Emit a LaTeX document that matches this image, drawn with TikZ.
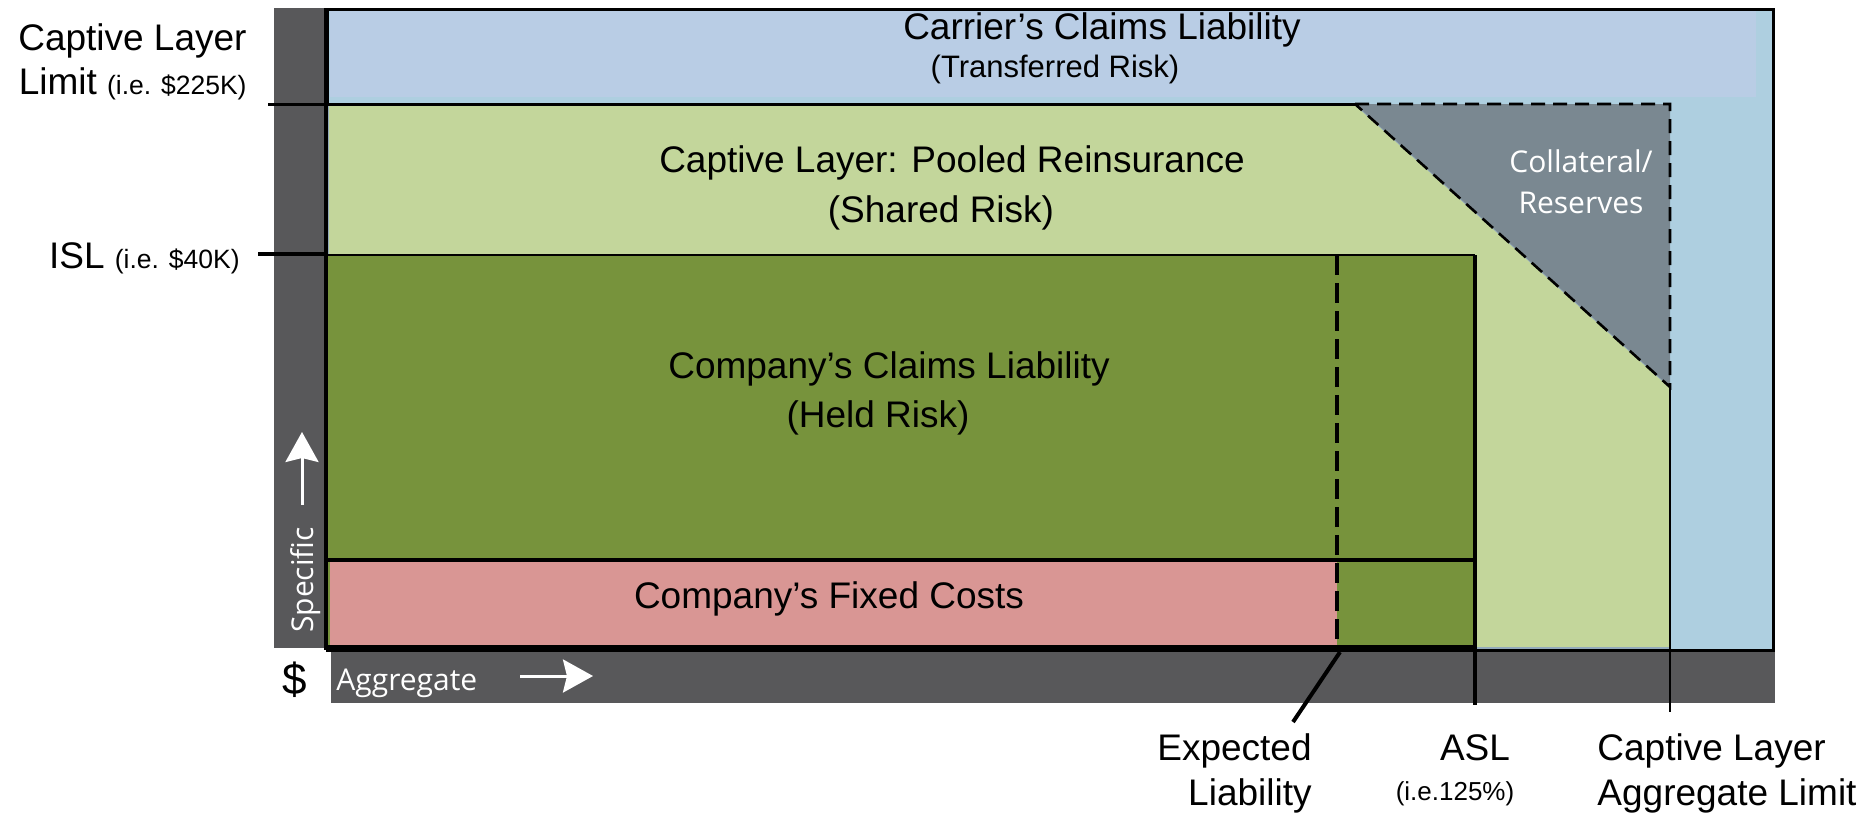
\documentclass[tikz,border=0pt]{standalone}
\usepackage{fontspec}
\setmainfont{Liberation Sans}
\newfontfamily\uifont{Open Sans}
\usetikzlibrary{arrows.meta}

\definecolor{axisgray}{HTML}{58585A}
\definecolor{outerblue}{HTML}{AECFE0}
\definecolor{bandblue}{HTML}{B9CDE5}
\definecolor{lightgreen}{HTML}{C3D69B}
\definecolor{darkgreen}{HTML}{77933C}
\definecolor{fixedpink}{HTML}{D99694}
\definecolor{slate}{HTML}{7A8891}
\definecolor{edgeblue}{HTML}{93AABB}

\begin{document}
\begin{tikzpicture}[x=0.5pt,y=-0.5pt,
  main/.style={inner sep=0pt, anchor=base, font=\fontsize{18.5}{22}\selectfont},
  sub/.style={inner sep=0pt, anchor=base, font=\fontsize{15.5}{18}\selectfont},
  note/.style={inner sep=0pt, anchor=base, font=\fontsize{13}{16}\selectfont},
  axislbl/.style={inner sep=0pt, anchor=base, text=white, font=\uifont\fontsize{15}{18}\selectfont},
  axisarrow/.style={draw=white, line width=1.5pt, -{Stealth[length=15pt, width=16.5pt, inset=2pt]}},
  marker/.style={draw=black, line width=2pt},
]
\useasboundingbox (0,0) rectangle (1866,814);

% axis bars
\fill[axisgray] (274,8) rectangle (325,648);
\fill[axisgray] (331,652) rectangle (1775,703);

% carrier layer (outer box and top band)
\filldraw[fill=outerblue, draw=black, line width=1.5pt] (327,9) rectangle (1773,650);
\fill[bandblue] (330,11) rectangle (1756,97);

% pooled captive layer
\filldraw[fill=lightgreen, draw=edgeblue, line width=0.8pt]
  (328,104) -- (1355,104) -- (1670,387) -- (1670,648) -- (328,648) -- cycle;

% collateral / reserves triangle
\filldraw[fill=slate, draw=black, line width=1.3pt, dash pattern=on 7pt off 4pt]
  (1355,104) -- (1670,104) -- (1670,387) -- cycle;

% held risk and fixed costs
\fill[darkgreen] (327,255) rectangle (1475,648);
\draw[black, line width=0.6pt] (327,255) -- (1475,255);
\fill[fixedpink] (330,562) rectangle (1337,645);

% key points
\coordinate (climTick) at (268,104);
\coordinate (climEnd)  at (1355,104);
\coordinate (islTick)  at (258,254);
\coordinate (islEnd)   at (327,254);
\coordinate (expTop)   at (1337,255);
\coordinate (expBot)   at (1337,648);
\coordinate (expFoot)  at (1340,652);
\coordinate (expLead)  at (1293,722);
\coordinate (aslTop)   at (1475,255);
\coordinate (aslFoot)  at (1475,705);
\coordinate (aggTop)   at (1670,387);
\coordinate (aggFoot)  at (1670,712);

% structural lines
\draw[marker] (327,560) -- (1475,560);
\draw[black, line width=3.5pt] (327,648) -- (1477,648);
\draw[black, line width=2pt] (326,8) -- (326,650);
\draw[black, line width=1.5pt] (climTick) -- (climEnd);
\draw[marker] (islTick) -- (islEnd);
\draw[marker, dash pattern=on 10pt off 4pt] (expTop) -- (expBot);
\draw[marker] (expFoot) -- (expLead);
\draw[marker] (aslTop) -- (aslFoot);
\draw[black, line width=1.3pt] (aggTop) -- (aggFoot);

% axis decorations
\coordinate (upFrom) at (302,505);
\coordinate (upTo)   at (302,432);
\coordinate (rtFrom) at (520,676);
\coordinate (rtTo)   at (593,676);
\draw[axisarrow] (upFrom) -- (upTo);
\draw[axisarrow] (rtFrom) -- (rtTo);
\node[axislbl, rotate=90] (specific) at (313,580) {Specific};
\node[axislbl, anchor=base west] (aggregate) at (336,690) {Aggregate};
\node[inner sep=0pt, anchor=base, font=\fontsize{22}{26}\selectfont] (dollar) at (295,694) {\$};

% layer labels
\node[main] (carrierA) at (1102,39) {Carrier’s Claims Liability};
\node[sub]  (carrierB) at (1055,77) {(Transferred Risk)};
\node[main] (pooledA) at (952,172) {Captive Layer: Pooled Reinsurance};
\node[main] (pooledB) at (941,222) {(Shared Risk)};
\node[main] (heldA) at (889,378) {Company’s Claims Liability};
\node[main] (heldB) at (878,427) {(Held Risk)};
\node[main] (fixed) at (829,608) {Company’s Fixed Costs};
\node[axislbl] (collatA) at (1581,172) {Collateral/};
\node[axislbl] (collatB) at (1581,213) {Reserves};

% limit labels on the left
\node[main, anchor=base east] (climA) at (247,50) {Captive Layer};
\node[main, anchor=base east] (climB) at (247,94) {Limit {\fontsize{13.25}{16}\selectfont (i.e. \$225K)}};
\node[main, anchor=base east] (isl) at (240,268) {ISL {\fontsize{13.25}{16}\selectfont (i.e. \$40K)}};

% limit labels along the bottom
\node[main, anchor=base east] (expA) at (1312,760) {Expected};
\node[main, anchor=base east] (expB) at (1312,805) {Liability};
\node[main] (asl) at (1475,760) {ASL};
\node[note] (aslPct) at (1455,800) {(i.e.125\%)};
\node[main, anchor=base west] (aggA) at (1597,760) {Captive Layer};
\node[main, anchor=base west] (aggB) at (1597,805) {Aggregate Limit};
\end{tikzpicture}
\end{document}
